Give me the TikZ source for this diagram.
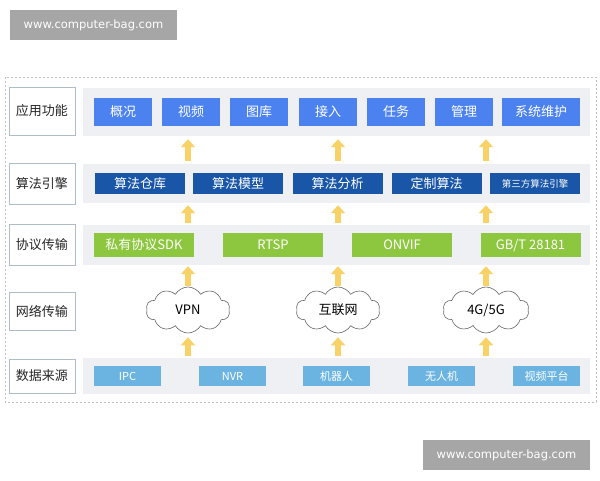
\documentclass[tikz,border=0pt]{standalone}
\usepackage{fontspec}
\setmainfont{Noto Sans CJK SC}
\newfontfamily\wmfont{DejaVu Sans}
\usetikzlibrary{arrows.meta,shapes.symbols}

\begin{document}
\begin{tikzpicture}[x=1pt,y=-1pt,
  lblbox/.style={draw=lblline,fill=white,line width=0.8pt,minimum width=66,inner sep=0,font=\fontsize{13}{13}\selectfont,text=black!85},
  band/.style={fill=bandgray,minimum width=507,inner sep=0},
  fnbox/.style={fill=fnblue,text=white,minimum width=58,minimum height=28,inner sep=0,font=\fontsize{13}{13}\selectfont},
  algbox/.style={fill=algblue,text=white,minimum width=90,minimum height=21,inner sep=0,font=\fontsize{13}{13}\selectfont},
  protobox/.style={fill=protogreen,text=white,minimum width=100,minimum height=24,inner sep=0,font=\fontsize{13}{13}\selectfont},
  srcbox/.style={fill=srcblue,text=white,minimum width=67,minimum height=20,inner sep=0,font=\fontsize{11}{11}\selectfont},
  cloudnode/.style={cloud,draw=black!60,line width=0.6pt,fill=white,cloud puffs=10,cloud puff arc=120,aspect=1.9,minimum width=84,minimum height=46,inner sep=0,font=\fontsize{13}{13}\selectfont},
  uparrow/.style={draw=arrowyellow,line width=6pt,-{Triangle[width=14pt,length=8pt]},shorten <=3pt,shorten >=3pt},
  wmbox/.style={fill=wmgray,text=white,minimum width=167,minimum height=30,inner sep=0,font=\wmfont\fontsize{11.5}{11.5}\selectfont}]
\definecolor{lblline}{HTML}{AEBEC4}
\definecolor{bandgray}{HTML}{EEF0F4}
\definecolor{fnblue}{HTML}{4C82F0}
\definecolor{algblue}{HTML}{1A56A8}
\definecolor{protogreen}{HTML}{8DC63F}
\definecolor{srcblue}{HTML}{6BB4E2}
\definecolor{arrowyellow}{HTML}{F8D267}
\definecolor{wmgray}{HTML}{A6A6A6}
\useasboundingbox (0,0) rectangle (600,480);
% watermarks
\node[wmbox] (wm1) at (93.5,25) {www.computer-bag.com};
\node[wmbox] (wm2) at (506.5,455) {www.computer-bag.com};
% frame
\draw[black!25,line width=0.6pt,dash pattern=on 2pt off 2pt] (5,77) rectangle (596,402);
% row labels
\foreach \txt/\ypos/\bh [count=\i] in {应用功能/111/48,算法引擎/183.5/41,协议传输/244.5/41,网络传输/311/38,数据来源/376/34}
  { \node[lblbox,minimum height=\bh] (l\i) at (42,\ypos) {\txt};}
% bands
\node[band,minimum height=48] (b1) at (336.5,112) {};
\node[band,minimum height=39] (b2) at (336.5,183.5) {};
\node[band,minimum height=40] (b3) at (336.5,245) {};
\node[band,minimum height=36] (b5) at (336.5,376) {};
% application row
\foreach \txt/\pos [count=\i] in {概况/123,视频/191,图库/259,接入/328,任务/396,管理/464}
  { \node[fnbox] (f\i) at (\pos,112) {\txt};}
\node[fnbox,minimum width=78] (f7) at (541,112) {系统维护};
% algorithm row
\foreach \txt/\pos [count=\i] in {算法仓库/140,算法模型/238,算法分析/337.5,定制算法/436.5}
  { \node[algbox] (a\i) at (\pos,183.5) {\txt};}
\node[algbox,font=\fontsize{9.5}{9.5}\selectfont] (a5) at (535,183.5) {第三方算法引擎};
% protocol row
\foreach \txt/\pos [count=\i] in {私有协议SDK/144,RTSP/273,ONVIF/402,{GB/T 28181}/530.5}
  { \node[protobox] (p\i) at (\pos,245) {\txt};}
% networks
\node[cloudnode] (vpn) at (188,310) {VPN};
\node[cloudnode] (web) at (338,310) {互联网};
\node[cloudnode,minimum width=86] (mob) at (486,310) {4G/5G};
% source row
\foreach \txt/\pos [count=\i] in {IPC/127.5,NVR/232.5,机器人/336.5,无人机/441.5,视频平台/546.5}
  { \node[srcbox] (s\i) at (\pos,376) {\txt};}
% arrows
\foreach \cl in {vpn,web,mob}
{ \draw[uparrow] (\cl |- b2.north) -- (\cl |- b1.south);
  \draw[uparrow,shorten <=2pt,shorten >=2pt] (\cl |- b3.north) -- (\cl |- b2.south);
  \draw[uparrow,shorten <=1pt,shorten >=1pt] (\cl.north) -- (\cl |- b3.south);
  \draw[uparrow,shorten <=2pt,shorten >=4pt] (\cl |- b5.north) -- (\cl.south);}
\end{tikzpicture}
\end{document}
